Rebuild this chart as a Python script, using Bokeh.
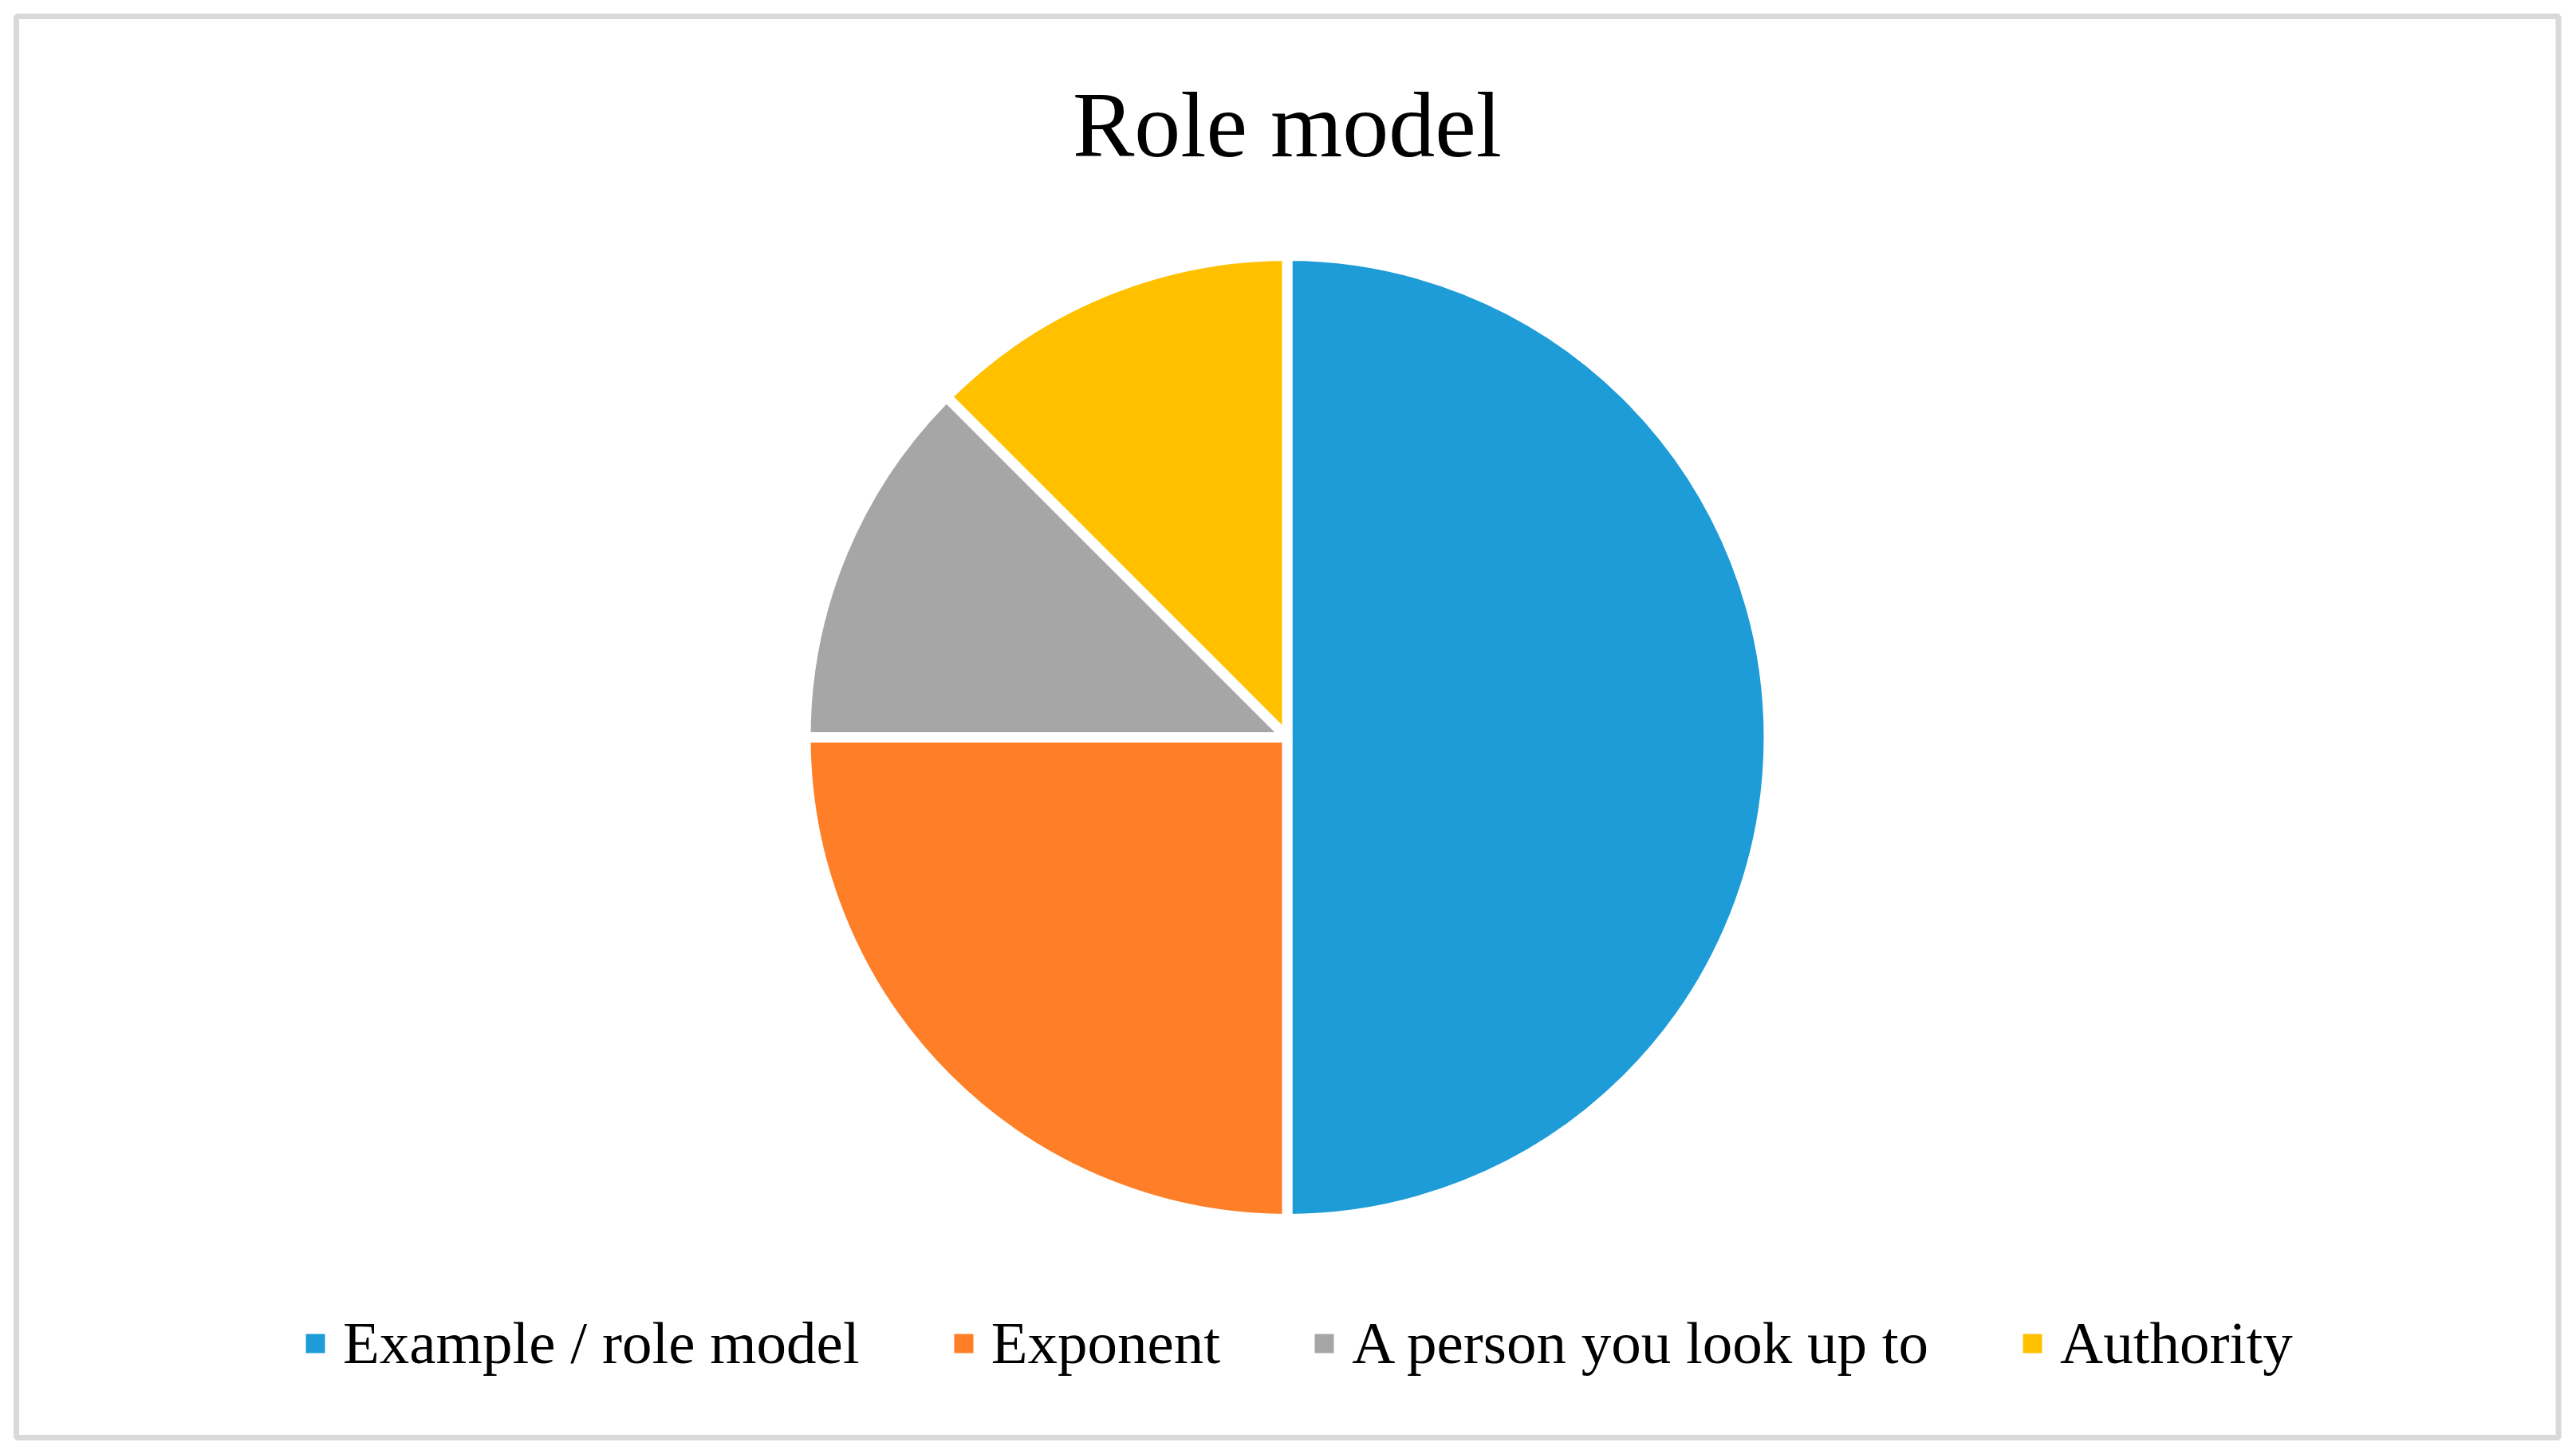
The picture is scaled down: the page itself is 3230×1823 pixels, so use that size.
import math
from bokeh.plotting import figure
from bokeh.models import ColumnDataSource, Label, BoxAnnotation, Range1d
from bokeh.embed import file_html
from bokeh.resources import INLINE

# ---- data ----
categories = ["Example / role model", "Exponent", "A person you look up to", "Authority"]
shares = [50, 25, 12.5, 12.5]
colors = ["#1e9cd8", "#fe7f27", "#a6a6a6", "#ffc000"]
title_text = "Role model"

W, H = 3230, 1823
FONT = "Liberation Serif"

total = sum(shares)
starts, ends = [], []
cum = 0.0
for s in shares:
    starts.append(math.pi / 2 - 2 * math.pi * cum / total)
    cum += s
    ends.append(math.pi / 2 - 2 * math.pi * cum / total)

src = ColumnDataSource(dict(label=categories, value=shares, color=colors,
                            start=starts, end=ends))
# legend-only source (no visible marks: NaN positions)
leg_src = ColumnDataSource(dict(label=categories, color=colors,
                                x=[float("nan")] * len(categories),
                                y=[float("nan")] * len(categories)))

p = figure(width=W, height=H, output_backend="svg", toolbar_location=None,
           x_range=Range1d(0, W), y_range=Range1d(0, H),
           min_border=0, outline_line_color=None, background_fill_color="white",
           border_fill_color="white")
p.axis.visible = False
p.grid.visible = False

cx, cy = 1613.5, H - 924
p.wedge(x=cx, y=cy, radius=604, radius_units="screen",
        start_angle="start", end_angle="end", direction="clock",
        fill_color="color", line_color="white", line_width=13,
        source=src)

p.rect(x="x", y="y", width=1, height=1, fill_color="color", line_color=None,
       source=leg_src, legend_field="label")

# chart frame
p.add_layout(BoxAnnotation(left=20, right=3207.5, bottom=H - 1802, top=H - 20,
                           fill_alpha=0, line_color="#d9d9d9", line_alpha=1.0,
                           line_width=7))

# title
p.add_layout(Label(x=cx, y=H - 156, text=title_text, text_align="center",
                   text_baseline="alphabetic", text_font=FONT,
                   text_font_size="116px", text_color="black"))

lg = p.legend[0]
lg.orientation = "horizontal"
lg.location = (380, 96)
lg.label_text_font = FONT
lg.label_text_font_size = "75px"
lg.label_text_color = "black"
lg.glyph_width = 30
lg.glyph_height = 30
lg.label_standoff = 20
lg.spacing = 115
lg.padding = 0
lg.margin = 0
lg.border_line_color = None
lg.background_fill_alpha = 0

open("out.html", "w").write(file_html(p, INLINE))
